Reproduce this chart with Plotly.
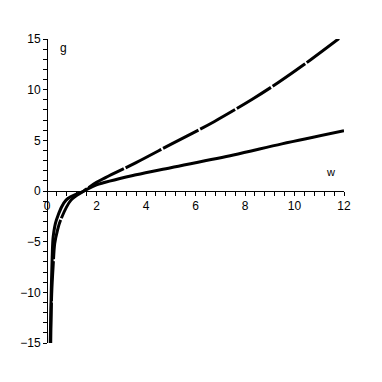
import plotly.graph_objects as go

# curve values
w_upper = [0.15, 0.19, 0.25, 0.31, 0.42, 0.55, 0.97, 1.49, 2.0, 3.6, 5.0, 6.75, 8.31, 9.36, 10.4, 11.8]
g_upper = [-15, -10.1, -7.3, -5.2, -3.9, -2.86, -0.9, 0, 0.85, 2.8, 4.6, 6.84, 9.08, 10.73, 12.5, 15.05]

w_lower = [0.13, 0.17, 0.21, 0.25, 0.38, 0.77, 1.49, 2.0, 3.6, 5.0, 7.53, 9.49, 12.0]
g_lower = [-15, -10.1, -6.5, -4.5, -2.86, -0.9, 0, 0.6, 1.6, 2.3, 3.55, 4.65, 5.95]

fnt = dict(family="Liberation Sans, Arial, sans-serif", size=12, color="black")

fig = go.Figure()
fig.add_trace(go.Scatter(x=w_upper, y=g_upper, mode="lines",
                         line=dict(color="black", width=3, dash="40px,2px", shape="spline", smoothing=0.9)))
fig.add_trace(go.Scatter(x=w_lower, y=g_lower, mode="lines",
                         line=dict(color="black", width=3, shape="spline", smoothing=0.9)))

fig.update_layout(
    width=382, height=382, showlegend=False,
    plot_bgcolor="white", paper_bgcolor="white",
    margin=dict(l=30, r=46, t=31, b=47),
    font=fnt,
    xaxis=dict(range=[0, 12], anchor="free", position=0.5, showgrid=False, zeroline=False,
               showline=True, linecolor="black", linewidth=1,
               ticks="outside", ticklen=4, tickcolor="black", dtick=2, tick0=0,
               minor=dict(dtick=0.4, ticks="outside", ticklen=4, tickcolor="black")),
    yaxis=dict(range=[-15, 15], anchor="free", position=0, showgrid=False, zeroline=False,
               showline=True, linecolor="black", linewidth=1,
               ticks="outside", ticklen=4, tickcolor="black", dtick=5, tick0=0,
               minor=dict(dtick=1, ticks="outside", ticklen=4, tickcolor="black")),
)

fig.add_annotation(x=0.67, y=14.1, text="g", showarrow=False, font=fnt)
fig.add_annotation(x=11.45, y=1.9, text="w", showarrow=False, font=dict(family=fnt["family"], size=11, color="black"))

fig.write_html("out.html")
